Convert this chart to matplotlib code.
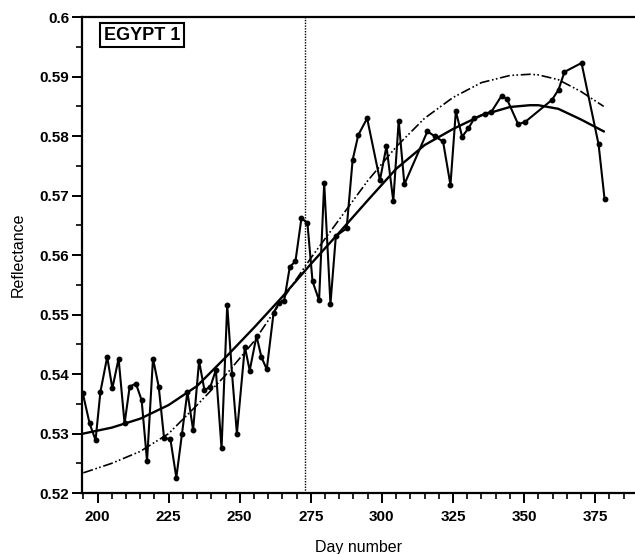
import numpy as np
import matplotlib
matplotlib.use('Agg')
import matplotlib.pyplot as plt
from matplotlib.ticker import MultipleLocator, FixedLocator

plt.rcParams['font.family'] = ['Liberation Sans', 'DejaVu Sans']

# observed reflectance (day, value)
day = [194.8, 197.2, 199.3, 201.0, 203.4, 205.2, 207.4, 209.5, 211.3, 213.5,
       215.5, 217.4, 219.5, 221.5, 223.4, 225.6, 227.7, 229.7, 231.6, 233.6,
       235.7, 237.6, 239.7, 241.6, 243.6, 245.6, 247.3, 249.0, 251.8, 253.5,
       255.9, 257.6, 259.5, 261.9, 263.8, 265.6, 267.6, 269.6, 271.7, 273.8,
       275.6, 277.9, 279.7, 281.9, 283.8, 287.6, 289.7, 291.7, 294.8, 299.3,
       301.6, 304.0, 305.9, 307.9, 316.0, 318.5, 321.5, 324.1, 326.0, 328.2,
       330.4, 332.5, 336.3, 338.5, 342.1, 344.0, 347.9, 350.4, 359.8, 362.1,
       364.2, 370.2, 376.2, 378.3]
refl = [0.5368, 0.5317, 0.5289, 0.5370, 0.5429, 0.5376, 0.5426, 0.5317, 0.5379, 0.5384,
        0.5356, 0.5254, 0.5426, 0.5379, 0.5292, 0.5291, 0.5226, 0.5300, 0.5370, 0.5306,
        0.5422, 0.5373, 0.5379, 0.5407, 0.5275, 0.5516, 0.5400, 0.5300, 0.5446, 0.5406,
        0.5464, 0.5429, 0.5408, 0.5503, 0.5520, 0.5523, 0.5580, 0.5590, 0.5662, 0.5654,
        0.5556, 0.5524, 0.5721, 0.5518, 0.5632, 0.5645, 0.5760, 0.5802, 0.5830, 0.5726,
        0.5783, 0.5691, 0.5826, 0.5719, 0.5808, 0.5800, 0.5791, 0.5718, 0.5842, 0.5799,
        0.5813, 0.5830, 0.5838, 0.5841, 0.5868, 0.5862, 0.5820, 0.5824, 0.5861, 0.5878,
        0.5908, 0.5923, 0.5786, 0.5694]

# fitted curves
fit_day = [195, 205, 215, 225, 235, 245, 255, 265, 275, 285, 295, 305, 315, 325,
           335, 345, 352, 355, 362, 370, 378]
fit_solid = [0.5300, 0.5310, 0.5325, 0.5348, 0.5380, 0.5428, 0.5478, 0.5530, 0.5585,
             0.5638, 0.5692, 0.5745, 0.5785, 0.5812, 0.5835, 0.5849, 0.5852, 0.5852,
             0.5846, 0.5828, 0.5808]
fit_dash = [0.5234, 0.5250, 0.5270, 0.5300, 0.5348, 0.5398, 0.5455, 0.5525, 0.5595,
            0.5660, 0.5725, 0.5782, 0.5830, 0.5865, 0.5890, 0.5902, 0.5904, 0.5903,
            0.5895, 0.5875, 0.5850]

vline_day = 273
yticks = [0.52, 0.53, 0.54, 0.55, 0.56, 0.57, 0.58, 0.59, 0.6]
ylabels = ['0.52', '0.53', '0.54', '0.55', '0.56', '0.57', '0.58', '0.59', '0.6']
xticks = [200, 225, 250, 275, 300, 325, 350, 375]

fig = plt.figure(figsize=(6.35, 5.54), dpi=100)
ax = fig.add_axes([0.129, 0.110, 0.871, 0.859])

ax.plot(day, refl, color='black', lw=1.5, marker='o', ms=3.2, zorder=3)
ax.plot(fit_day, fit_solid, color='black', lw=1.7, zorder=2)
ax.plot(fit_day, fit_dash, color='black', lw=1.2, dashes=(6, 1.6, 1, 1.4, 1, 1.6), zorder=2)
ax.axvline(vline_day, color='black', lw=1.0, ls=(0, (1, 1)), zorder=1)

ax.set_xlim(194.5, 389)
ax.set_ylim(0.52, 0.6)
ax.xaxis.set_major_locator(FixedLocator(xticks))
ax.xaxis.set_minor_locator(MultipleLocator(5))
ax.yaxis.set_major_locator(FixedLocator(yticks))
ax.set_yticklabels(ylabels)
ax.yaxis.set_minor_locator(MultipleLocator(0.005))

for side in ['left', 'bottom', 'top']:
    ax.spines[side].set_linewidth(1.6)
ax.spines['right'].set_visible(False)
ax.tick_params(which='major', direction='out', length=7, width=1.4, labelsize=11)
ax.tick_params(axis='x', which='major', pad=5)
ax.tick_params(axis='y', which='major', pad=2)
ax.tick_params(which='minor', direction='out', length=4.5, width=1.2)
for lab in ax.get_xticklabels() + ax.get_yticklabels():
    lab.set_fontweight('bold')

ax.set_xlabel('Day number', fontsize=11.5, labelpad=12)
ax.set_ylabel('Reflectance', fontsize=11.5, labelpad=10)

ax.text(0.040, 0.962, 'EGYPT 1', transform=ax.transAxes, fontsize=13,
        fontweight='bold', va='center', ha='left',
        bbox=dict(boxstyle='square,pad=0.2', fc='white', ec='black', lw=1.5))

fig.savefig('out.png', dpi=100)
